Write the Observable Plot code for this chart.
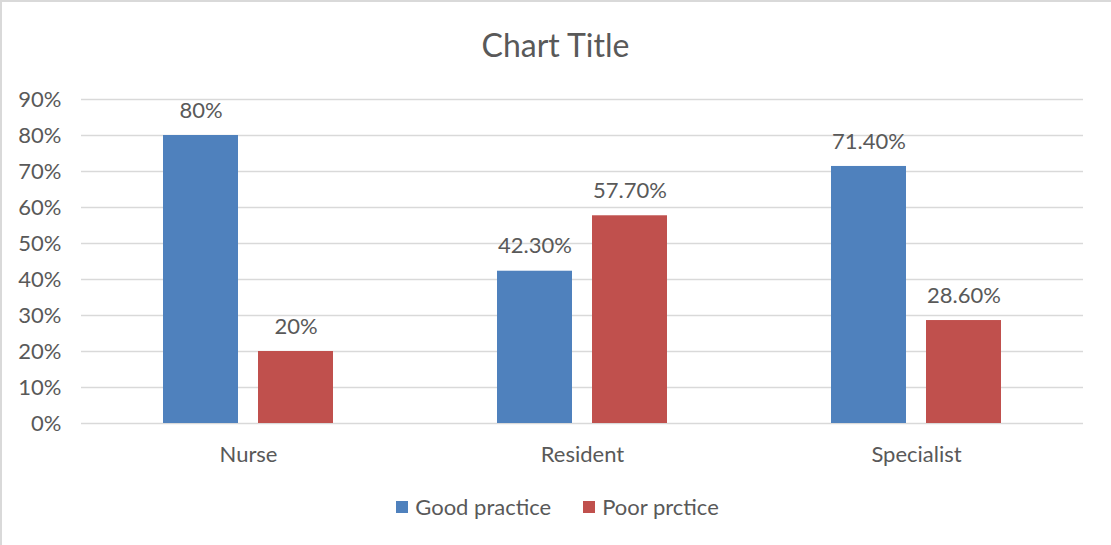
<!DOCTYPE html>
<html><head><meta charset="utf-8">
<script src="https://cdn.jsdelivr.net/npm/d3@7"></script>
<script src="https://cdn.jsdelivr.net/npm/@observablehq/plot@0.6"></script>
<style>
body{margin:0;background:#fff;font-family:Lato,"Open Sans",sans-serif;color:#595959;}
#wrap{position:relative;width:1111px;height:545px;overflow:hidden;background:#fff;}
#border{position:absolute;left:0;top:0;width:1111px;height:545px;box-sizing:border-box;border-left:2px solid #d9d9d9;border-top:2px solid #d9d9d9;pointer-events:none;}
#title{position:absolute;left:0;top:25px;width:1111px;text-align:center;font-size:32px;line-height:40px;color:#595959;}
#chart{position:absolute;left:0;top:75px;}
#legend{position:absolute;left:0;top:494px;width:1111px;display:flex;justify-content:center;align-items:center;font-size:22px;line-height:26px;color:#595959;padding-left:4px;box-sizing:border-box;}
.item{display:flex;align-items:center;}
.sw{width:12px;height:12px;margin-right:7px;}
.item + .item{margin-left:32px;}
</style>
</head><body>
<div id="wrap">
  <div id="title">Chart Title</div>
  <div id="chart"></div>
  <div id="legend"></div>
  <div id="border"></div>
</div>
<script>
const categories = ["Nurse", "Resident", "Specialist"];
const series = ["Good practice", "Poor prctice"];
const goodValues = [0.80, 0.423, 0.714];
const poorValues = [0.20, 0.577, 0.286];
const goodLabels = ["80%", "42.30%", "71.40%"];
const poorLabels = ["20%", "57.70%", "28.60%"];
const yTicks = [0, 0.1, 0.2, 0.3, 0.4, 0.5, 0.6, 0.7, 0.8, 0.9];
const colors = ["#4F81BD", "#C0504D"];

const data = [];
categories.forEach((c, i) => {
  data.push({category: c, series: series[0], value: goodValues[i], label: goodLabels[i]});
  data.push({category: c, series: series[1], value: poorValues[i], label: poorLabels[i]});
});

const chart = Plot.plot({
  width: 1111,
  height: 400,
  marginLeft: 80,
  marginRight: 28,
  marginTop: 24,
  marginBottom: 52,
  style: {fontFamily: "Lato, 'Open Sans', sans-serif", fontSize: "22px", color: "#595959", background: "transparent"},
  fx: {domain: categories, padding: 0, label: null},
  x: {domain: series, paddingInner: 20 / 95, paddingOuter: 0.86, axis: null},
  y: {domain: [0, 0.9], axis: null},
  color: {domain: series, range: colors},
  marks: [
    Plot.ruleY(yTicks, {stroke: "#d9d9d9", strokeWidth: 1.5}),
    Plot.barY(data, {fx: "category", x: "series", y: "value", fill: "series"}),
    Plot.text(data, {fx: "category", x: "series", y: "value", text: "label", dy: -25, lineAnchor: "middle", fill: "#595959", fontSize: 22}),
    Plot.axisY({ticks: yTicks, tickFormat: d => Math.round(d * 100) + "%", tickSize: 0, tickPadding: 20, label: null, fontSize: 22, fill: "#595959"}),
    Plot.axisFx({anchor: "bottom", tickSize: 0, tickPadding: 23, label: null, fontSize: 22, fill: "#595959"})
  ]
});
document.getElementById("chart").appendChild(chart);

const legend = document.getElementById("legend");
series.forEach((s, i) => {
  const item = document.createElement("div");
  item.className = "item";
  const sw = document.createElement("div");
  sw.className = "sw";
  sw.style.background = colors[i];
  const t = document.createElement("span");
  t.textContent = s;
  item.appendChild(sw);
  item.appendChild(t);
  legend.appendChild(item);
});
</script>
</body></html>
